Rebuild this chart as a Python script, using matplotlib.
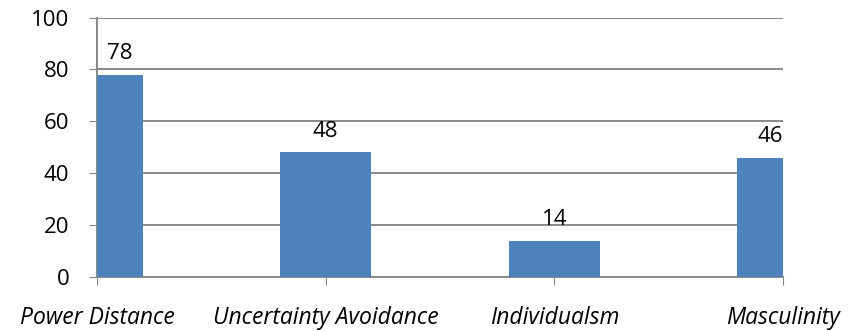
import matplotlib
matplotlib.use("Agg")
import matplotlib.pyplot as plt

categories = ["Power Distance", "Uncertainty Avoidance", "Individualsm", "Masculinity"]
scores = [78, 48, 14, 46]
y_ticks = [0, 20, 40, 60, 80, 100]

bar_color = "#4F81BD"
grid_color = "#898989"

plt.rcParams["font.family"] = ["Open Sans", "DejaVu Sans"]

fig = plt.figure(figsize=(8.52, 3.31), dpi=100)
ax = fig.add_axes([0.1138, 0.163, 0.8052, 0.784])

x = list(range(len(categories)))
ax.bar(x, scores, width=0.4, color=bar_color, zorder=3)

ax.set_xlim(0, len(categories) - 1)
ax.set_ylim(0, 100)
ax.set_yticks(y_ticks)
ax.set_xticks(x)
ax.set_xticklabels(categories, fontstyle="italic", fontsize=16.5)
ax.tick_params(axis="y", labelsize=16, length=6, color=grid_color, pad=14)
ax.tick_params(axis="x", length=6, color=grid_color, pad=15)

ax.yaxis.grid(True, color=grid_color, linewidth=1.4, zorder=0)
for side in ["top", "right"]:
    ax.spines[side].set_visible(False)
for side in ["left", "bottom"]:
    ax.spines[side].set_color(grid_color)
    ax.spines[side].set_linewidth(1.4)

# value labels, kept inside the plot area like the original
for i, v in enumerate(scores):
    if i == 0:
        ax.text(i + 0.1, v + 6, str(v), ha="center", va="baseline", fontsize=16)
    elif i == len(scores) - 1:
        ax.text(i, v + 6, str(v), ha="right", va="baseline", fontsize=16)
    else:
        ax.text(i, v + 6, str(v), ha="center", va="baseline", fontsize=16)

fig.savefig("out.png", dpi=100)
